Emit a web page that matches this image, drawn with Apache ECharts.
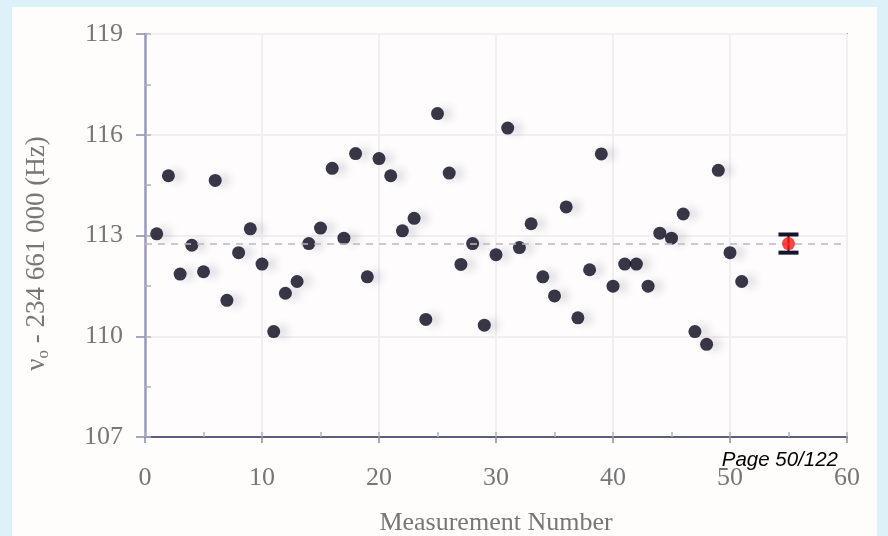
<!DOCTYPE html>
<html><head><meta charset="utf-8">
<script src="https://cdn.jsdelivr.net/npm/echarts@6/dist/echarts.min.js"></script>
<style>html,body{margin:0;padding:0;background:#dcf2f8;}#c{width:888px;height:536px;}</style>
</head><body><div id="c"></div>
<script>
// ---- data ----
const measurementNumbers = [1,2,3,4,5,6,7,8,9,10,11,12,13,14,15,16,17,18,19,20,21,22,23,24,25,26,27,28,29,30,31,32,33,34,35,36,37,38,39,40,41,42,43,44,45,46,47,48,49,50,51];
const frequencyOffsets = [113.05,114.78,111.85,112.71,111.92,114.64,111.07,112.49,113.20,112.15,110.14,111.28,111.63,112.76,113.22,115.00,112.92,115.44,111.77,115.29,114.78,113.14,113.51,110.50,116.63,114.86,112.14,112.76,110.33,112.43,116.20,112.64,113.35,111.77,111.20,113.85,110.55,111.98,115.43,111.49,112.15,112.15,111.49,113.07,112.92,113.64,110.14,109.76,114.94,112.49,111.63];
const meanX = [55];
const meanValue = [112.76];
const meanError = [0.27];
const xTicks = [0,10,20,30,40,50,60];
const yTicks = [107,110,113,116,119];
const xMinorStep = [5];
const yMinorStep = [1.5];

const serif = '"Liberation Serif", "Times New Roman", serif';
const labelColor = '#767676';

const points = measurementNumbers.map((n, i) => [n, frequencyOffsets[i]]);
const meanPoints = meanX.map((x, i) => [x, meanValue[i]]);
const errBars = meanX.map((x, i) => [x, meanValue[i] - meanError[i], meanValue[i] + meanError[i]]);

const chart = echarts.init(document.getElementById('c'), null, {renderer: 'canvas'});
chart.setOption({
  backgroundColor: '#dcf2f8',
  animation: false,
  graphic: [
    {type: 'rect', z: -10, silent: true, shape: {x: 12, y: 7, width: 865, height: 529}, style: {fill: '#fefdfc'}},
    {type: 'text', z: 100, x: 838, y: 460, style: {text: 'Page 50/122', font: 'italic 20.5px "Liberation Sans", Arial, sans-serif', fill: '#000000', align: 'right', verticalAlign: 'middle'}}
  ],
  grid: {left: 145, right: 41, top: 34, bottom: 99, containLabel: false, outerBoundsMode: 'none', show: true, backgroundColor: '#fffcfd', borderColor: '#a4a4c0', borderWidth: 2},
  xAxis: [{
    type: 'value', min: xTicks[0], max: xTicks[xTicks.length - 1], interval: xTicks[1] - xTicks[0],
    name: 'Measurement Number', nameLocation: 'middle', nameGap: 73,
    nameTextStyle: {fontFamily: serif, fontSize: 26, color: labelColor},
    axisLine: {show: true, lineStyle: {color: '#5e5e78', width: 2}},
    axisTick: {show: true, inside: false, length: 6, lineStyle: {color: '#8a8aa6', width: 1.5}},
    axisLabel: {fontFamily: serif, fontSize: 26, color: labelColor, margin: 28},
    splitLine: {show: true, lineStyle: {color: '#f4eef2', width: 2}}
  }, {
    type: 'value', min: xTicks[0], max: xTicks[xTicks.length - 1], interval: xMinorStep[0], position: 'bottom',
    axisLine: {show: false}, axisLabel: {show: false}, splitLine: {show: false},
    axisTick: {show: true, inside: true, length: 5, lineStyle: {color: '#b0b0c8', width: 1.5}}
  }],
  yAxis: [{
    type: 'value', min: yTicks[0], max: yTicks[yTicks.length - 1], interval: yTicks[1] - yTicks[0],
    name: '{v|ν}{s|o}{v| - 234 661 000 (Hz)}', nameLocation: 'middle', nameGap: 93, nameRotate: 90,
    nameTextStyle: {padding: [0, 36, 0, 0], rich: {
      v: {fontFamily: serif, fontSize: 27, color: labelColor},
      s: {fontFamily: serif, fontSize: 17, color: labelColor, padding: [14, 0, 0, 0]}
    }},
    axisLine: {show: true, lineStyle: {color: '#9a9ac0', width: 2.5}},
    axisTick: {show: true, inside: false, length: 9, lineStyle: {color: '#8a8aa6', width: 1.5}},
    axisLabel: {fontFamily: serif, fontSize: 26, color: labelColor, margin: 22},
    splitLine: {show: true, lineStyle: {color: '#f4eef2', width: 2}}
  }, {
    type: 'value', min: yTicks[0], max: yTicks[yTicks.length - 1], interval: yMinorStep[0], position: 'left',
    axisLine: {show: false}, axisLabel: {show: false}, splitLine: {show: false},
    axisTick: {show: true, inside: true, length: 6, lineStyle: {color: '#b0b0c8', width: 1.5}}
  }],
  series: [{
    type: 'scatter', data: points, symbol: 'circle', symbolSize: 13, z: 3,
    itemStyle: {color: '#07061a', shadowColor: 'rgba(30,25,60,0.18)', shadowBlur: 8, shadowOffsetX: 8},
    markLine: {
      silent: true, symbol: ['none', 'none'], label: {show: false},
      lineStyle: {type: [7, 6], color: '#c6b2c0', width: 1.5},
      data: [{yAxis: meanValue[0]}]
    }
  }, {
    type: 'custom', data: errBars, z: 4,
    renderItem(params, api) {
      const x = api.value(0);
      const lo = api.coord([x, api.value(1)]);
      const hi = api.coord([x, api.value(2)]);
      const w = 10;
      const st = {stroke: '#14142a', lineWidth: 4};
      return {type: 'group', children: [
        {type: 'line', shape: {x1: lo[0], y1: lo[1], x2: hi[0], y2: hi[1]}, style: {stroke: '#14142a', lineWidth: 2}},
        {type: 'line', shape: {x1: lo[0] - w, y1: lo[1], x2: lo[0] + w, y2: lo[1]}, style: st},
        {type: 'line', shape: {x1: hi[0] - w, y1: hi[1], x2: hi[0] + w, y2: hi[1]}, style: st}
      ]};
    }
  }, {
    type: 'scatter', data: meanPoints, symbol: 'circle', symbolSize: 13, z: 5,
    itemStyle: {color: '#ff1414'}
  }]
});
</script></body></html>
